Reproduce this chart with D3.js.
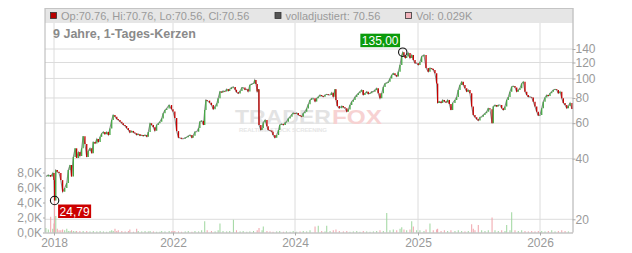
<!DOCTYPE html>
<html>
<head>
<meta charset="utf-8">
<script src="https://cdn.jsdelivr.net/npm/d3@7"></script>
<style>
  body { margin: 0; background: #fff; }
  svg text { font-family: "Liberation Sans", Arial, sans-serif; }
</style>
</head>
<body>
<div id="chart"></div>
<script>
// Data_____________________________________________________
const titleText = '9 Jahre, 1-Tages-Kerzen';
const legendItems = ['Op:70.76, Hi:70.76, Lo:70.56, Cl:70.56', 'volladjustiert: 70.56', 'Vol: 0.029K'];
const priceTicks = [20, 40, 60, 80, 100, 120, 140];
const volumeTicks = [0, 2, 4, 6, 8];
const yearTicks = [2018, 2022, 2024, 2025, 2026];
const highMark = [2024.876, 135.00];
const lowMark = [2018.02, 24.79];

// [year, close]
const prices = [
  [2017.73,32.6],[2017.81,33.2],[2017.89,32.6],[2017.96,33.9],[2018.00,31.3],[2018.02,24.79],[2018.06,35.1],[2018.11,34.4],
  [2018.17,33.9],[2018.23,31.3],[2018.29,27.4],[2018.36,28.6],[2018.43,30.3],[2018.48,35.1],[2018.54,37.2],[2018.59,32.6],
  [2018.65,40.7],[2018.71,45.0],[2018.76,40.3],[2018.82,43.1],[2018.87,41.2],[2018.93,45.0],[2018.98,51.7],[2019.04,47.3],
  [2019.10,40.7],[2019.15,43.6],[2019.21,45.0],[2019.27,42.5],[2019.32,48.4],[2019.38,47.6],[2019.44,50.1],[2019.49,48.4],
  [2019.55,51.3],[2019.60,53.3],[2019.66,54.3],[2019.71,52.9],[2019.77,54.3],[2019.83,52.4],[2019.88,56.5],[2019.94,62.2],
  [2019.99,65.9],[2020.05,64.6],[2020.11,62.9],[2020.16,62.2],[2020.22,61.0],[2020.28,59.9],[2020.33,58.8],[2020.39,58.1],
  [2020.44,56.7],[2020.50,55.5],[2020.55,53.9],[2020.61,54.9],[2020.67,53.9],[2020.72,53.5],[2020.78,52.4],[2020.83,53.0],
  [2020.89,52.0],[2020.95,52.4],[2021.00,51.8],[2021.06,52.4],[2021.12,51.4],[2021.17,54.3],[2021.23,59.9],[2021.28,58.8],
  [2021.34,57.3],[2021.39,55.0],[2021.45,58.8],[2021.51,59.9],[2021.56,61.0],[2021.62,63.2],[2021.67,67.1],[2021.73,69.7],
  [2021.79,71.0],[2021.87,73.8],[2021.95,70.4],[2022.00,68.6],
  [2022.03,63.6],[2022.06,54.8],[2022.09,50.8],[2022.11,50.8],[2022.14,50.2],[2022.17,50.2],[2022.20,50.8],[2022.22,51.1],
  [2022.25,51.8],[2022.28,52.4],[2022.31,50.8],[2022.33,52.0],[2022.36,54.4],[2022.39,54.4],[2022.42,56.7],[2022.44,61.0],
  [2022.47,61.6],[2022.50,58.8],[2022.52,69.7],[2022.54,78.2],[2022.56,77.6],[2022.60,75.8],[2022.63,73.8],[2022.66,70.4],
  [2022.69,72.5],[2022.72,75.4],[2022.74,79.7],[2022.77,86.1],[2022.80,85.2],[2022.82,86.7],[2022.85,86.1],[2022.88,88.5],
  [2022.91,86.7],[2022.93,88.5],[2022.96,90.1],[2022.99,90.8],[2023.02,87.9],[2023.04,85.5],[2023.07,84.3],[2023.10,86.7],
  [2023.13,90.1],[2023.15,90.1],[2023.18,87.9],[2023.21,88.5],[2023.23,86.1],[2023.26,92.8],[2023.29,93.9],[2023.32,94.5],
  [2023.34,98.3],[2023.36,93.9],[2023.38,86.1],[2023.40,88.5],[2023.41,58.8],[2023.44,55.5],[2023.46,56.7],[2023.48,60.4],
  [2023.51,62.2],[2023.54,57.9],[2023.56,55.5],[2023.59,55.1],[2023.62,54.4],[2023.64,52.4],[2023.67,50.8],[2023.70,52.4],
  [2023.73,55.5],[2023.75,58.8],[2023.78,59.5],[2023.81,58.8],[2023.84,60.4],[2023.86,61.0],[2023.89,63.2],[2023.92,64.6],
  [2023.95,66.4],[2023.97,67.4],[2024.00,66.9],
  [2024.014,67.4],[2024.027,65.9],[2024.041,65.2],[2024.054,64.6],[2024.067,67.1],[2024.081,68.4],[2024.095,71.0],[2024.108,74.4],
  [2024.122,78.2],[2024.136,79.7],[2024.149,79.7],[2024.163,76.8],[2024.176,79.7],[2024.189,81.1],[2024.203,82.8],[2024.217,81.8],
  [2024.230,81.1],[2024.244,82.8],[2024.258,83.5],[2024.271,82.8],[2024.285,82.8],[2024.298,85.0],[2024.311,81.1],[2024.325,88.5],
  [2024.333,78.2],[2024.344,73.0],[2024.360,71.1],[2024.380,73.0],[2024.393,72.0],[2024.407,71.1],[2024.421,68.4],[2024.434,70.2],
  [2024.447,73.8],[2024.461,76.7],[2024.474,78.2],[2024.488,81.0],[2024.502,82.8],[2024.515,84.4],[2024.528,86.0],[2024.542,87.7],
  [2024.555,82.8],[2024.569,84.4],[2024.583,86.0],[2024.596,83.7],[2024.610,84.4],[2024.624,86.0],[2024.637,86.0],[2024.650,87.7],
  [2024.664,89.4],[2024.677,84.4],[2024.691,79.7],[2024.705,84.4],[2024.718,90.8],[2024.732,94.5],[2024.746,95.1],[2024.759,96.2],
  [2024.772,100.0],[2024.786,104.0],[2024.799,106.0],[2024.813,104.0],[2024.827,102.2],[2024.840,107.9],[2024.854,116.6],[2024.868,130.8],
  [2024.876,135.0],[2024.886,129.5],[2024.897,126.2],[2024.908,128.6],[2024.921,133.7],[2024.935,126.2],[2024.949,130.8],[2024.962,123.5],
  [2024.976,119.1],[2024.989,119.1],
  [2025.002,116.6],[2025.016,120.6],[2025.030,128.6],[2025.049,130.8],[2025.066,112.8],[2025.084,107.9],[2025.098,112.8],[2025.112,111.7],
  [2025.125,110.2],[2025.139,106.0],[2025.153,94.4],[2025.161,75.6],[2025.174,76.8],[2025.189,75.6],[2025.202,78.2],[2025.216,76.8],
  [2025.230,76.0],[2025.243,78.2],[2025.257,74.7],[2025.270,69.7],[2025.284,75.6],[2025.303,78.2],[2025.317,81.0],[2025.330,87.7],
  [2025.344,92.8],[2025.358,96.2],[2025.371,92.8],[2025.385,89.4],[2025.399,86.0],[2025.412,87.7],[2025.426,84.4],[2025.440,72.6],
  [2025.453,65.9],[2025.467,64.2],[2025.481,62.8],[2025.494,61.8],[2025.508,64.2],[2025.522,64.6],[2025.535,65.9],[2025.549,67.1],
  [2025.563,68.4],[2025.576,71.1],[2025.590,70.3],[2025.607,60.0],[2025.617,72.6],[2025.631,73.8],[2025.645,72.6],[2025.658,73.8],
  [2025.672,73.8],[2025.686,71.1],[2025.699,69.7],[2025.713,72.6],[2025.727,78.2],[2025.740,81.0],[2025.754,86.0],[2025.768,91.0],
  [2025.781,91.7],[2025.795,90.3],[2025.809,86.0],[2025.822,87.7],[2025.836,89.4],[2025.850,94.4],[2025.863,96.2],[2025.877,86.0],
  [2025.891,82.8],[2025.904,81.0],[2025.918,81.0],[2025.932,80.4],[2025.945,76.7],[2025.959,72.6],[2025.973,68.4],[2025.986,65.5],
  [2026.000,65.9],[2026.014,71.1],[2026.027,76.7],[2026.041,80.4],[2026.055,82.8],[2026.068,81.8],[2026.082,84.4],[2026.096,86.0],
  [2026.109,87.7],[2026.123,88.4],[2026.137,87.7],[2026.150,84.4],[2026.164,86.0],[2026.178,79.7],[2026.191,75.6],[2026.205,73.8],
  [2026.219,71.1],[2026.232,73.0],[2026.246,75.6],[2026.262,70.56]
];

// [year, volume in thousands]
const volumes = [
  [2017.73,0.6],[2017.81,0.4],[2017.89,2.1],[2017.96,0.5],[2018.00,1.2],[2018.02,5.4],[2018.06,2.2],[2018.11,0.5],
  [2018.17,0.3],[2018.23,0.3],[2018.29,0.4],[2018.36,0.3],[2018.43,0.5],[2018.48,0.2],[2018.54,0.2],[2018.59,0.3],
  [2018.65,0.2],[2018.71,0.15],[2018.76,0.2],[2018.87,0.2],[2018.98,0.2],[2019.10,0.2],[2019.21,0.15],[2019.32,0.2],
  [2019.44,0.15],[2019.55,0.2],[2019.66,0.15],[2019.77,0.1],[2019.88,0.2],[2019.94,0.3],[2019.99,0.2],[2020.05,0.5],
  [2020.11,0.2],[2020.16,0.3],[2020.28,0.2],[2020.39,0.15],[2020.50,0.2],[2020.55,0.4],[2020.67,0.1],[2020.78,0.5],
  [2020.83,0.2],[2020.95,0.15],[2021.06,0.2],[2021.17,0.15],[2021.23,0.2],[2021.34,0.15],[2021.45,0.1],[2021.56,0.1],
  [2021.62,0.2],[2021.73,0.15],[2021.87,0.2],[2021.95,0.15],[2022.00,0.2],
  [2022.03,0.2],[2022.09,0.15],[2022.14,0.1],[2022.20,0.15],[2022.25,0.2],[2022.31,0.1],[2022.36,0.2],[2022.42,0.15],
  [2022.47,0.3],[2022.52,1.5],[2022.56,0.3],[2022.63,0.2],[2022.69,0.15],[2022.74,0.3],[2022.77,1.2],[2022.82,0.2],
  [2022.88,0.15],[2022.93,0.2],[2022.99,1.7],[2023.04,0.3],[2023.10,0.15],[2023.15,0.2],[2023.21,0.1],[2023.26,0.15],
  [2023.32,0.2],[2023.38,0.3],[2023.41,0.6],[2023.46,0.3],[2023.48,0.8],[2023.54,0.2],[2023.59,0.15],[2023.64,0.1],
  [2023.70,0.15],[2023.75,0.2],[2023.81,0.1],[2023.86,0.15],[2023.92,0.1],[2023.97,0.2],
  [2024.014,0.1],[2024.041,0.15],[2024.067,0.2],[2024.095,0.15],[2024.122,0.3],[2024.163,0.8],[2024.189,0.9],[2024.217,0.2],
  [2024.244,0.15],[2024.258,0.9],[2024.285,0.2],[2024.311,0.3],[2024.333,0.4],[2024.360,0.2],[2024.393,0.15],[2024.421,0.2],
  [2024.447,0.1],[2024.474,0.15],[2024.502,0.2],[2024.528,0.1],[2024.555,0.2],[2024.583,0.15],[2024.610,0.1],[2024.637,0.15],
  [2024.664,0.2],[2024.691,0.3],[2024.718,0.2],[2024.746,2.6],[2024.772,0.3],[2024.799,0.4],[2024.827,0.3],[2024.854,0.5],
  [2024.868,0.7],[2024.886,0.4],[2024.908,0.3],[2024.935,0.4],[2024.949,1.5],[2024.962,0.8],[2024.989,0.3],
  [2025.016,0.3],[2025.049,0.2],[2025.066,0.4],[2025.098,1.2],[2025.125,0.3],[2025.153,0.4],[2025.161,0.5],[2025.189,0.2],
  [2025.216,0.3],[2025.243,0.2],[2025.270,0.3],[2025.303,0.2],[2025.330,0.3],[2025.358,0.2],[2025.385,0.15],[2025.412,0.2],
  [2025.440,1.1],[2025.453,0.5],[2025.467,0.3],[2025.494,1.0],[2025.522,0.3],[2025.549,0.2],[2025.576,0.3],[2025.607,2.0],
  [2025.631,0.3],[2025.658,0.2],[2025.686,0.3],[2025.713,0.2],[2025.727,1.0],[2025.754,0.3],[2025.768,2.7],[2025.795,0.3],
  [2025.822,0.2],[2025.850,0.3],[2025.877,0.2],[2025.904,0.15],[2025.932,0.2],[2025.959,0.15],[2025.986,0.2],
  [2026.014,0.2],[2026.041,0.15],[2026.068,0.2],[2026.096,0.3],[2026.123,0.15],[2026.150,0.2],[2026.178,0.3],[2026.205,0.2],
  [2026.232,0.15],[2026.262,0.03]
];

// Layout_____________________________________________________
const width = 632;
const height = 253;
const plotLeft = 45;
const plotRight = 572.5;
const plotTop = 8;
const bandBottom = 23;
const plotBottom = 232.5;

const de = d3.formatLocale({decimal: ',', thousands: '.', grouping: [3], currency: ['', '€']});

const svg = d3.select('#chart')
  .append('svg')
  .attr('width', width)
  .attr('height', height);

// Scales (the older years are squeezed together like in the original)
const xScale = d3.scaleLinear()
  .domain([2017.70, 2018, 2022, 2024, 2025, 2026, 2026.27])
  .range([plotLeft, 54, 173, 295, 418, 540, 573]);
const yScale = d3.scaleLog()
  .domain([20, 140])
  .range([219.3, 49]);
const vScale = d3.scaleLinear()
  .domain([0, 8])
  .range([plotBottom, plotBottom - 60]);

// Header band_____________________________________________
svg.append('rect')
  .attr('x', plotLeft).attr('y', plotTop)
  .attr('width', plotRight - plotLeft).attr('height', bandBottom - plotTop)
  .attr('fill', '#e6e6e6');

// Grid________________________________________________________
svg.append('g')
  .selectAll('line')
  .data(priceTicks)
  .enter()
  .append('line')
  .attr('x1', plotLeft).attr('x2', plotRight)
  .attr('y1', d => yScale(d)).attr('y2', d => yScale(d))
  .attr('stroke', '#dcdcdc');

svg.append('g')
  .selectAll('line')
  .data(yearTicks)
  .enter()
  .append('line')
  .attr('x1', d => xScale(d)).attr('x2', d => xScale(d))
  .attr('y1', bandBottom).attr('y2', plotBottom)
  .attr('stroke', '#dcdcdc');

// Watermark
const wm = svg.append('g');
wm.append('text')
  .attr('x', 235).attr('y', 123.5)
  .attr('font-size', 21).attr('font-weight', 'bold')
  .attr('textLength', 96).attr('lengthAdjust', 'spacingAndGlyphs')
  .attr('fill', '#e3e3e3')
  .text('TRADER');
wm.append('text')
  .attr('x', 332).attr('y', 123.5)
  .attr('font-size', 21).attr('font-weight', 'bold')
  .attr('textLength', 50).attr('lengthAdjust', 'spacingAndGlyphs')
  .attr('fill', '#f7d2d2')
  .text('FOX');
wm.append('text')
  .attr('x', 239).attr('y', 131.5)
  .attr('font-size', 6).attr('font-weight', 'bold')
  .attr('textLength', 88).attr('lengthAdjust', 'spacing')
  .attr('fill', '#e6e6e6')
  .text('REALTIME STOCK SCREENING');

// Volume bars______________________________________________
const bisectYear = d3.bisector(d => d[0]).left;
const isUp = year => {
  const i = Math.min(bisectYear(prices, year), prices.length - 1);
  return i === 0 || prices[i][1] >= prices[i - 1][1];
};

svg.append('g')
  .selectAll('rect')
  .data(volumes)
  .enter()
  .append('rect')
  .attr('x', d => xScale(d[0]) - 0.5)
  .attr('width', 1)
  .attr('y', d => vScale(d[1]))
  .attr('height', d => plotBottom - vScale(d[1]))
  .attr('fill', d => isUp(d[0]) ? '#9ed69e' : '#f0a3aa');

// Price line + candles_____________________________________
const line = d3.line()
  .x(d => xScale(d[0]))
  .y(d => yScale(d[1]));

svg.append('path')
  .datum(prices)
  .attr('d', line)
  .attr('fill', 'none')
  .attr('stroke', '#8c8c8c')
  .attr('stroke-width', 1.1);

svg.append('g')
  .selectAll('line')
  .data(prices.slice(1).map((d, i) => [d[0], prices[i][1], d[1]]))
  .enter()
  .append('line')
  .attr('x1', d => xScale(d[0])).attr('x2', d => xScale(d[0]))
  .attr('y1', d => yScale(d[1])).attr('y2', d => yScale(d[2]))
  .attr('stroke', d => d[2] >= d[1] ? '#43a843' : '#c40000')
  .attr('stroke-width', 1.3);

// Frame + axes_______________________________________________
svg.append('line')
  .attr('x1', plotLeft).attr('x2', plotLeft).attr('y1', plotTop).attr('y2', plotBottom)
  .attr('stroke', '#b4b4b4');
svg.append('line')
  .attr('x1', plotLeft).attr('x2', plotRight).attr('y1', plotTop + 0.5).attr('y2', plotTop + 0.5)
  .attr('stroke', '#c4c4c4');

const styleAxis = g => {
  g.attr('font-family', null).attr('font-size', null);
  g.select('.domain').attr('stroke', '#aaa');
  g.selectAll('.tick line').attr('stroke', '#aaa');
  g.selectAll('.tick text').attr('fill', '#9a9a9a').attr('font-size', 12);
};

const yAxis = d3.axisRight(yScale)
  .tickValues(priceTicks)
  .tickFormat(d3.format('d'))
  .tickSize(3)
  .tickPadding(0);
svg.append('g')
  .attr('transform', `translate(${plotRight}, 0)`)
  .call(yAxis)
  .call(g => g.select('.domain').attr('d', `M0.5,${plotTop}V${plotBottom}`))
  .call(styleAxis);

const vAxis = d3.axisLeft(vScale)
  .tickValues(volumeTicks)
  .tickFormat(d => de.format('.1f')(d) + 'K')
  .tickSize(2)
  .tickPadding(1);
svg.append('g')
  .attr('transform', `translate(${plotLeft}, 0)`)
  .call(vAxis)
  .call(g => g.select('.domain').remove())
  .call(styleAxis);

const xAxis = d3.axisBottom(xScale)
  .tickValues(yearTicks)
  .tickFormat(d3.format('d'))
  .tickSize(3)
  .tickPadding(2.5);
svg.append('g')
  .attr('transform', `translate(0, ${plotBottom})`)
  .call(xAxis)
  .call(g => g.select('.domain').attr('d', `M${plotLeft},0.5H${plotRight + 0.5}`))
  .call(styleAxis);

// Legend in the header band__________________________________
const legendX = [50.5, 275, 405.5];
const legendFill = ['#b80000', '#555555', '#f2b3bb'];
const legend = svg.append('g');
legend.selectAll('rect')
  .data(legendItems)
  .enter()
  .append('rect')
  .attr('x', (d, i) => legendX[i]).attr('y', 12.5)
  .attr('width', 6).attr('height', 6)
  .attr('fill', (d, i) => legendFill[i])
  .attr('stroke', '#333').attr('stroke-width', 0.8);
legend.selectAll('text')
  .data(legendItems)
  .enter()
  .append('text')
  .attr('x', (d, i) => legendX[i] + 10.5).attr('y', 19.5)
  .attr('font-size', 11)
  .attr('fill', '#9a9a9a')
  .text(d => d);

svg.append('text')
  .attr('x', 53).attr('y', 37.5)
  .attr('font-size', 12.5).attr('font-weight', 'bold')
  .attr('fill', '#8a8a8a')
  .text(titleText);

// High / low markers______________________________________
const marker = (mark, boxX, boxY, fill) => {
  const cx = xScale(mark[0]);
  const cy = yScale(mark[1]);
  const label = de.format('.2f')(mark[1]);
  const g = svg.append('g');
  const t = g.append('text')
    .attr('font-size', 12)
    .attr('fill', '#fff')
    .text(label);
  const w = t.node().getComputedTextLength() + 3;
  const bx = boxX(cx, w);
  const by = boxY(cy);
  g.insert('rect', 'text')
    .attr('x', bx).attr('y', by)
    .attr('width', w).attr('height', 13.5)
    .attr('fill', fill);
  t.attr('x', bx + 1.5).attr('y', by + 11);
  svg.append('circle')
    .attr('cx', cx).attr('cy', cy).attr('r', 4.2)
    .attr('fill', 'none')
    .attr('stroke', '#111').attr('stroke-width', 1.1);
};
marker(highMark, (cx, w) => cx - 2.7 - w, cy => cy - 18.5, '#0b9b0b');
marker(lowMark, (cx, w) => cx + 3.5, cy => cy + 4, '#cc0000');
</script>
</body>
</html>
